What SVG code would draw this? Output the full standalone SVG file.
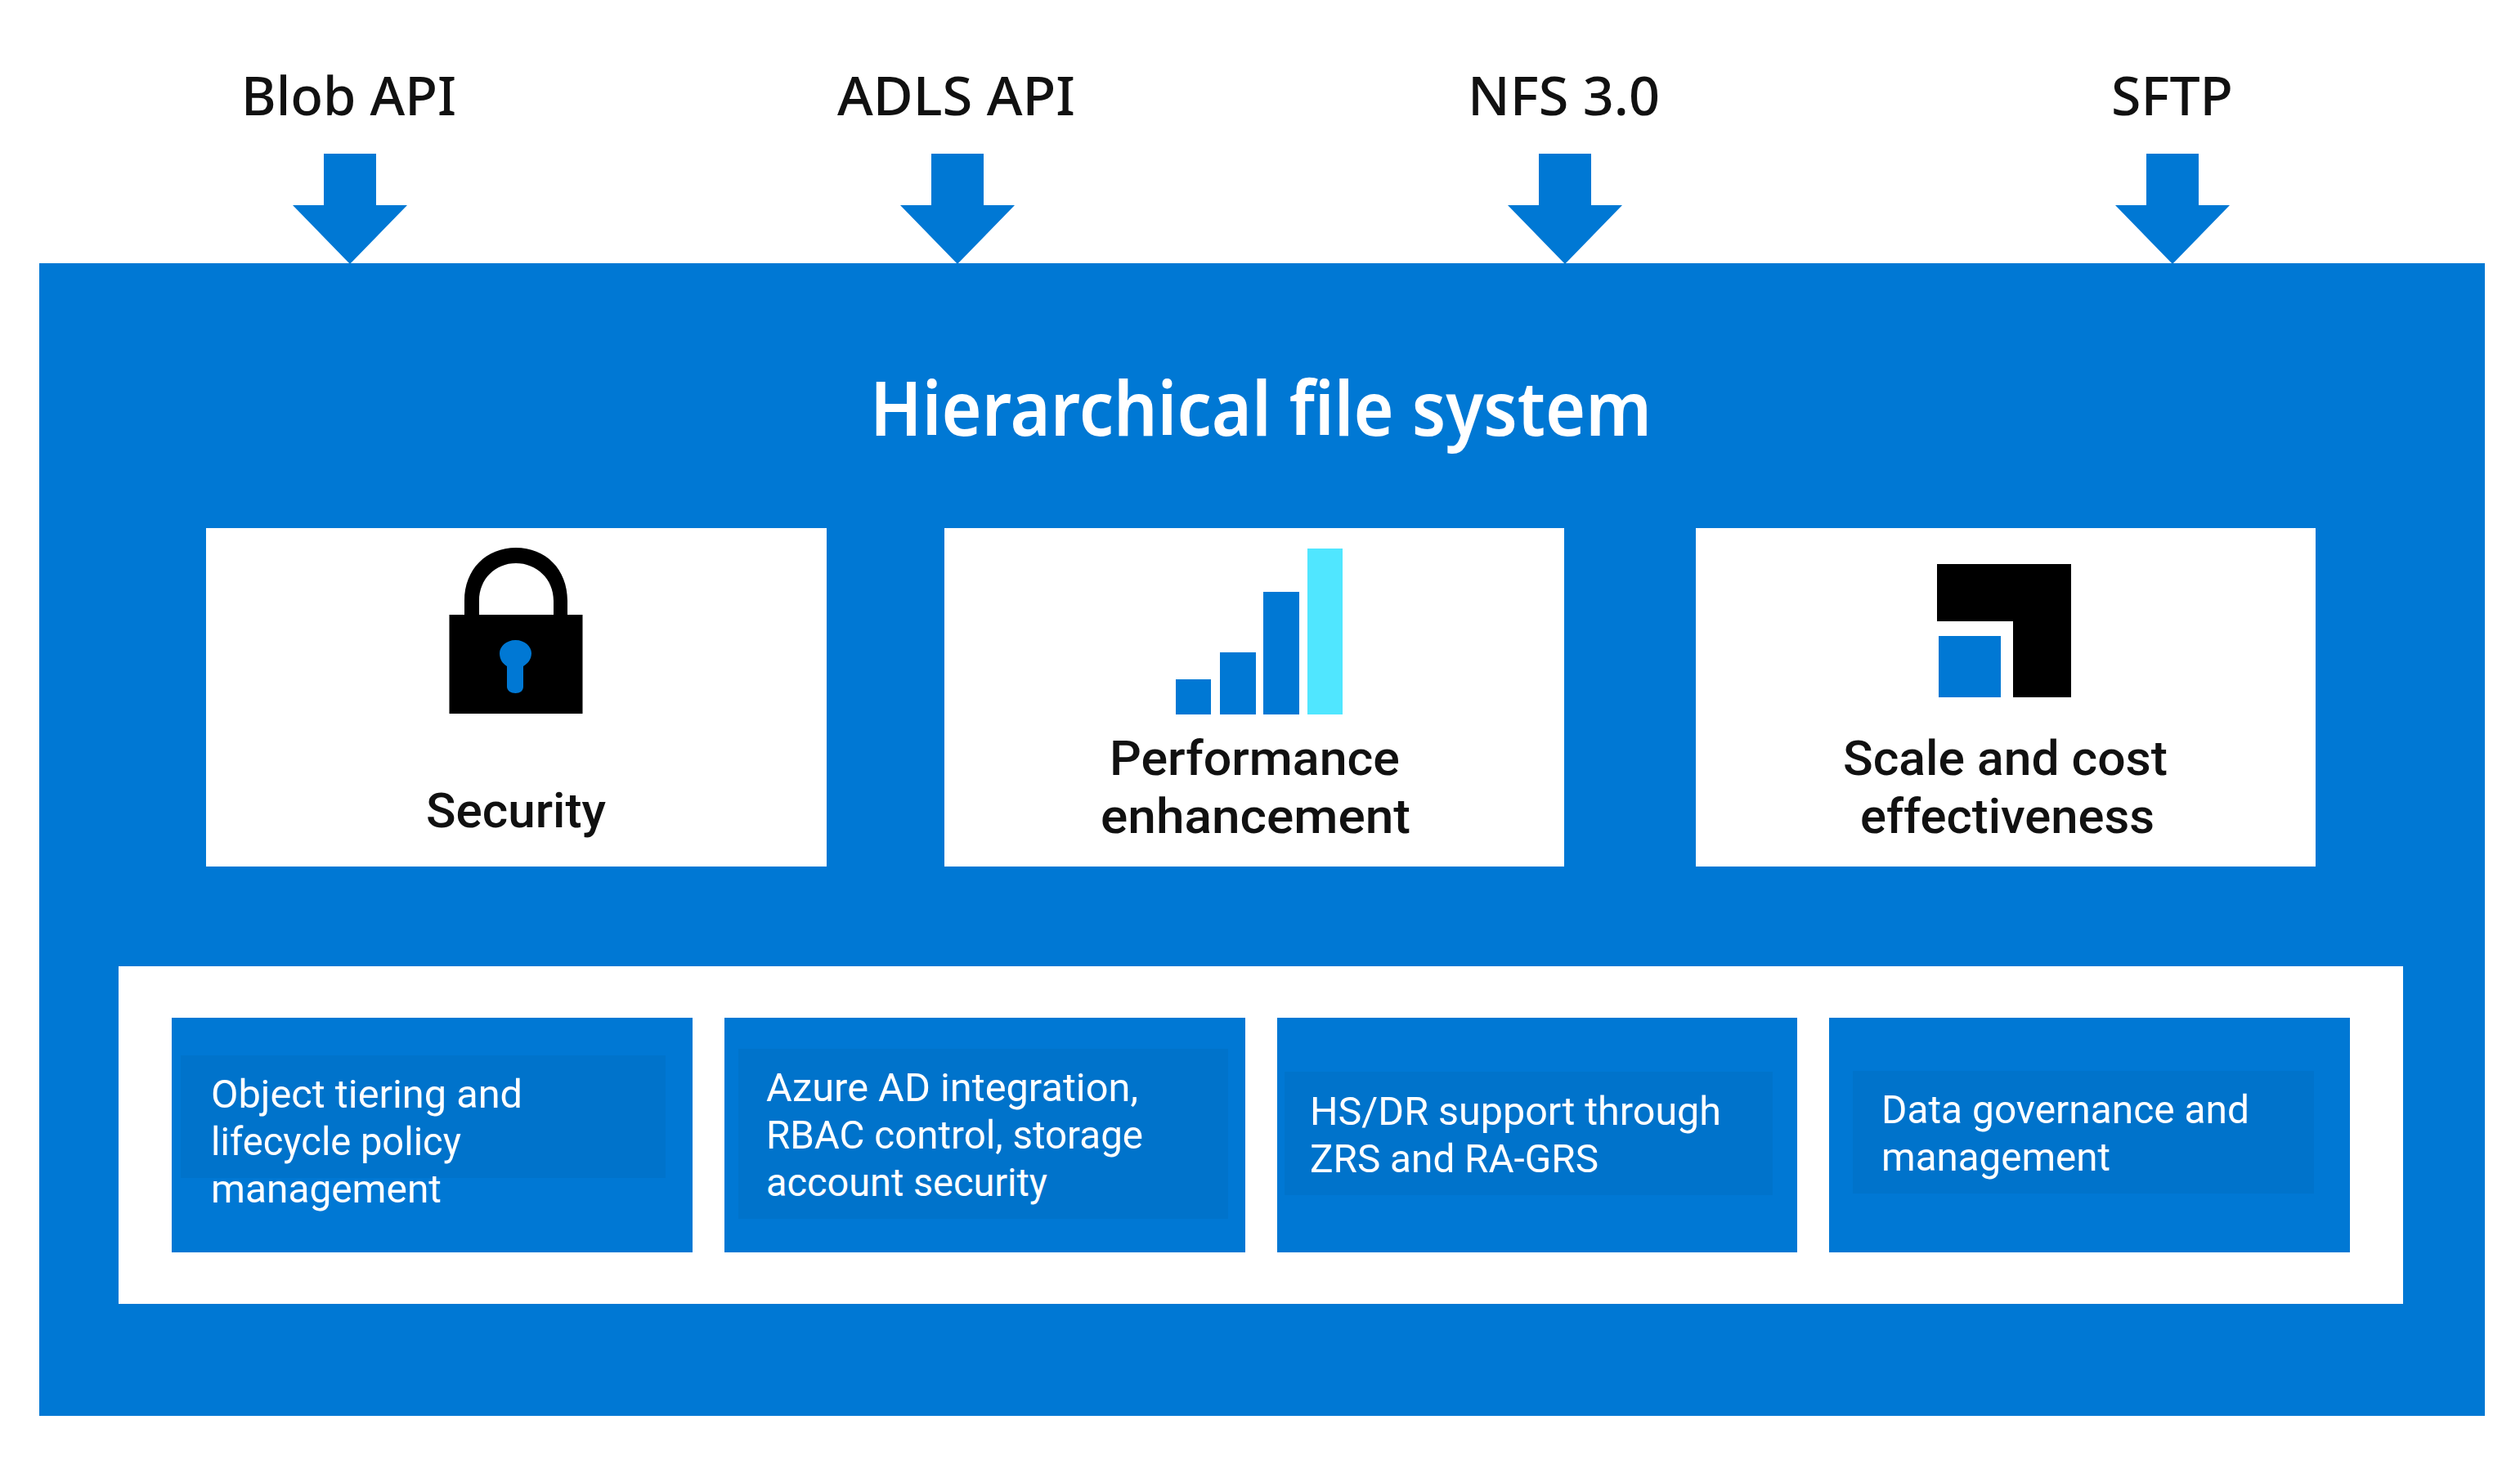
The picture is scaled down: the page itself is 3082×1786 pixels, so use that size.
<svg xmlns="http://www.w3.org/2000/svg" width="3082" height="1786" viewBox="0 0 3082 1786">
<style>
text{font-family:"Noto Sans","Open Sans","Liberation Sans",sans-serif}
.blue{fill:#0078d4}
.band{fill:#0073cb}
.white{fill:#fff}
.black{fill:#000}
.cyan{fill:#50e6ff}
.api{font-size:66px;font-weight:500;fill:#111}
.title{font-size:92px;font-weight:600;fill:#fff}
.cap{font-family:Roboto,"Noto Sans",sans-serif;font-size:59px;font-weight:500;fill:#111}
.item{font-family:Roboto,"Noto Sans",sans-serif;font-size:49px;font-weight:400;fill:#fff}
</style>
<rect width="3082" height="1786" fill="#fff"/>
<g id="hierarchical-file-system">
<rect class="blue" x="48" y="322" width="2991" height="1410"/>
<text class="title" x="1064" y="533" textLength="956" lengthAdjust="spacingAndGlyphs">Hierarchical file system</text>
</g>
<g id="connectors">
<polygon class="blue" points="396,188 460,188 460,251 498,251 428,323 358,251 396,251"/>
<polygon class="blue" points="1139,188 1203,188 1203,251 1241,251 1171,323 1101,251 1139,251"/>
<polygon class="blue" points="1882,188 1946,188 1946,251 1984,251 1914,323 1844,251 1882,251"/>
<polygon class="blue" points="2625,188 2689,188 2689,251 2727,251 2657,323 2587,251 2625,251"/>
</g>
<g id="api-blob"><text class="api" x="295" y="141" textLength="263" lengthAdjust="spacingAndGlyphs">Blob API</text></g>
<g id="api-adls"><text class="api" x="1024" y="141" textLength="291" lengthAdjust="spacingAndGlyphs">ADLS API</text></g>
<g id="api-nfs"><text class="api" x="1795" y="141" textLength="235" lengthAdjust="spacingAndGlyphs">NFS 3.0</text></g>
<g id="api-sftp"><text class="api" x="2582" y="141" textLength="149" lengthAdjust="spacingAndGlyphs">SFTP</text></g>
<g id="security">
<rect class="white" x="252" y="646" width="759" height="414"/>
<path class="black" d="M568,760V735C568,696 595,670 631,670C667,670 694,696 694,735V760H677V735C677,708 656,689 631,689C606,689 586,708 586,735V760Z"/>
<rect class="black" x="549.5" y="752" width="163" height="121"/>
<path class="blue" d="M630.5,783C642,783 650,791 650,799C650,807 645,812 640,815L640,840C640,845 636,848 630.5,848C625,848 620,845 620,840L620,815C615,812 611,807 611,799C611,791 619,783 630.5,783Z"/>
<text class="cap" x="521" y="1012" textLength="220" lengthAdjust="spacingAndGlyphs">Security</text>
</g>
<g id="performance">
<rect class="white" x="1155" y="646" width="758" height="414"/>
<rect class="blue" x="1438" y="831" width="43" height="43"/>
<rect class="blue" x="1492" y="798" width="44" height="76"/>
<rect class="blue" x="1545" y="724" width="44" height="150"/>
<rect class="cyan" x="1599" y="671" width="43" height="203"/>
<text class="cap" x="1357" y="948" textLength="355" lengthAdjust="spacingAndGlyphs">Performance</text>
<text class="cap" x="1346" y="1019" textLength="379" lengthAdjust="spacingAndGlyphs">enhancement</text>
</g>
<g id="scale-cost">
<rect class="white" x="2074" y="646" width="758" height="414"/>
<polygon class="black" points="2369,690 2533,690 2533,853 2462,853 2462,760 2369,760"/>
<rect class="blue" x="2371" y="778" width="76" height="75"/>
<text class="cap" x="2254" y="948" textLength="397" lengthAdjust="spacingAndGlyphs">Scale and cost</text>
<text class="cap" x="2275" y="1019" textLength="360" lengthAdjust="spacingAndGlyphs">effectiveness</text>
</g>
<g id="capabilities-panel"><rect class="white" x="145" y="1182" width="2794" height="413"/></g>
<g id="item-tiering">
<rect class="blue" x="210" y="1245" width="637" height="287"/>
<rect class="band" x="221" y="1291" width="593" height="150"/>
<text class="item" x="258" y="1355" textLength="381" lengthAdjust="spacingAndGlyphs">Object tiering and</text>
<text class="item" x="258" y="1413" textLength="306" lengthAdjust="spacingAndGlyphs">lifecycle policy</text>
<text class="item" x="258" y="1471" textLength="282" lengthAdjust="spacingAndGlyphs">management</text>
</g>
<g id="item-azure-ad">
<rect class="blue" x="886" y="1245" width="637" height="287"/>
<rect class="band" x="903" y="1283" width="599" height="208"/>
<text class="item" x="937" y="1347" textLength="455" lengthAdjust="spacingAndGlyphs">Azure AD integration,</text>
<text class="item" x="937" y="1405" textLength="461" lengthAdjust="spacingAndGlyphs">RBAC control, storage</text>
<text class="item" x="937" y="1463" textLength="344" lengthAdjust="spacingAndGlyphs">account security</text>
</g>
<g id="item-hs-dr">
<rect class="blue" x="1562" y="1245" width="636" height="287"/>
<rect class="band" x="1571" y="1311" width="597" height="151"/>
<text class="item" x="1602" y="1376" textLength="503" lengthAdjust="spacingAndGlyphs">HS/DR support through</text>
<text class="item" x="1602" y="1434" textLength="353" lengthAdjust="spacingAndGlyphs">ZRS and RA-GRS</text>
</g>
<g id="item-governance">
<rect class="blue" x="2237" y="1245" width="637" height="287"/>
<rect class="band" x="2266" y="1310" width="564" height="150"/>
<text class="item" x="2301" y="1374" textLength="450" lengthAdjust="spacingAndGlyphs">Data governance and</text>
<text class="item" x="2301" y="1432" textLength="280" lengthAdjust="spacingAndGlyphs">management</text>
</g>
</svg>
